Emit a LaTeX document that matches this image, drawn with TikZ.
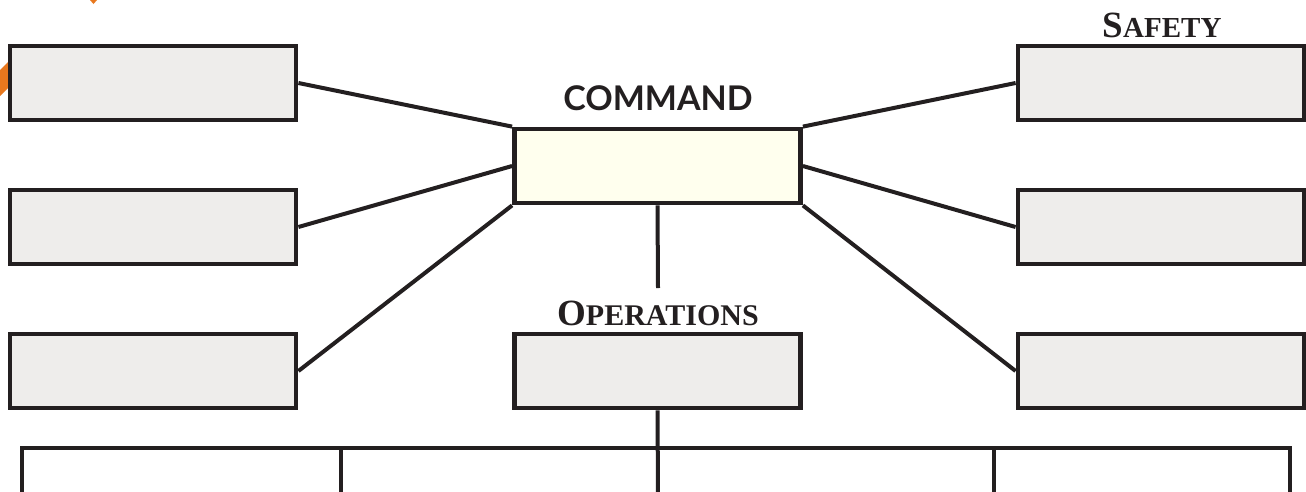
\documentclass[tikz,border=0pt]{standalone}
\usepackage{fontspec}
\setmainfont{Liberation Serif}
\newfontfamily\labelsans{Lato}
\usepackage{xcolor}
\usepackage{tikz}

\definecolor{boxgray}{HTML}{EEEDEB}
\definecolor{cmdyellow}{HTML}{FFFFEE}
\definecolor{inkblack}{HTML}{231F20}
\definecolor{markorange}{HTML}{E8781E}

\tikzset{
  unitbox/.style={draw=inkblack, line width=4.8pt, fill=boxgray,
    minimum width=286pt, minimum height=74pt, inner sep=0pt},
  link/.style={inkblack, line width=4pt},
  sclabel/.style={anchor=base, text=inkblack, inner sep=0pt},
}

\begin{document}
\begin{tikzpicture}[x=1pt,y=-1pt]
\useasboundingbox (0,0) rectangle (1306,491);

%\fill[markorange] marks cut at the page edge
\fill[markorange] (0,70) -- (13,57) -- (26,70) -- (0,96) -- cycle;
\fill[markorange] (90,0) -- (97,0) -- (93.5,4) -- cycle;

\node[unitbox] (left1) at (153,83) {};
\node[unitbox] (left2) at (153,227) {};
\node[unitbox] (left3) at (153,371) {};

\node[unitbox] (right1) at (1161,83) {};
\node[unitbox] (right2) at (1161,227) {};
\node[unitbox] (right3) at (1161,371) {};

\node[unitbox, fill=cmdyellow] (cmd) at (657.5,166) {};
\node[unitbox] (ops) at (657.5,371) {};

\node[sclabel, font=\labelsans\bfseries\fontsize{34}{34}\selectfont] (cmdlabel) at (658,110) {COMMAND};
\node[sclabel, font=\bfseries] (safetylabel) at (1162,37)
  {{\fontsize{37}{37}\selectfont S}{\fontsize{29}{29}\selectfont AFETY}};
\node[sclabel, font=\bfseries] (opslabel) at (658,325)
  {{\fontsize{37}{37}\selectfont O}{\fontsize{30}{30}\selectfont PERATIONS}};

\draw[link] (left1.east) -- (cmd.north west);
\draw[link] (left2.east) -- (cmd.west);
\draw[link] (left3.east) -- (cmd.south west);
\draw[link] (right1.west) -- (cmd.north east);
\draw[link] (right2.west) -- (cmd.east);
\draw[link] (right3.west) -- (cmd.south east);

\coordinate (cmdend) at (658,288);
\draw[link] (cmd.south) -- (cmdend);

\coordinate (busleft) at (22,448);
\coordinate (busright) at (1290,448);
\coordinate (bustwo) at (341,448);
\coordinate (busfour) at (994,448);
\draw[link] (ops.south) -- (658,495);
\draw[link] (22,495) -- (busleft) -- (busright) -- (1290,495);
\draw[link] (bustwo) -- (341,495);
\draw[link] (busfour) -- (994,495);

\end{tikzpicture}
\end{document}
